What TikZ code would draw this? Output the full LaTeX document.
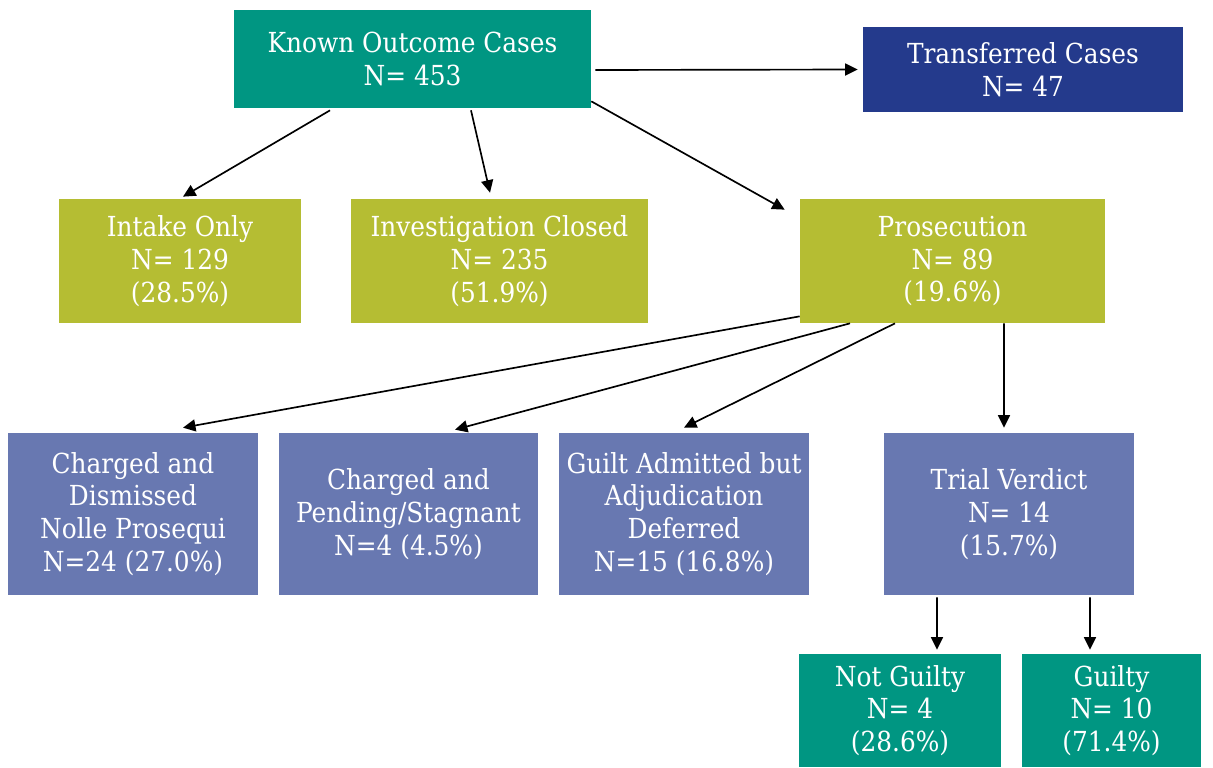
\documentclass[tikz,border=0pt]{standalone}
\usepackage{fontspec}
\setmainfont{DejaVu Serif Condensed}
\usetikzlibrary{arrows.meta,positioning}
\definecolor{tealbox}{HTML}{009682}
\definecolor{navybox}{HTML}{243A8C}
\definecolor{olivebox}{HTML}{B5BD33}
\definecolor{slatebox}{HTML}{6878B1}

\begin{document}
\begin{tikzpicture}[x=0.02cm,y=-0.02cm,
    box/.style={inner sep=0pt, align=center, text=white, font=\fontsize{15.7}{18.6}\selectfont},
    link/.style={line width=0.95pt, -{Triangle[length=0.25cm,width=0.24cm]}}]
  \useasboundingbox (0,0) rectangle (1213,767);
  % top row
  \node[box, fill=tealbox, minimum width=7.14cm, minimum height=1.96cm] (known) at (412.5,59) {Known Outcome Cases\\N= 453};
  \node[box, fill=navybox, minimum width=6.4cm, minimum height=1.7cm] (transf) at (1023,69.5) {Transferred Cases\\N= 47};
  % second row
  \node[box, fill=olivebox, minimum width=4.84cm, minimum height=2.48cm] (intake) at (180,261) {Intake Only\\N= 129\\(28.5\%)};
  \node[box, fill=olivebox, minimum width=5.94cm, minimum height=2.48cm] (closed) at (499.5,261) {Investigation Closed\\N= 235\\(51.9\%)};
  \node[box, fill=olivebox, minimum width=6.1cm, minimum height=2.48cm] (prosec) at (952.5,261) {Prosecution\\N= 89\\(19.6\%)};
  % third row
  \node[box, fill=slatebox, minimum width=5cm, minimum height=3.24cm] (dismiss) at (133,514) {Charged and\\Dismissed\\Nolle Prosequi\\N=24 (27.0\%)};
  \node[box, fill=slatebox, minimum width=5.18cm, minimum height=3.24cm] (pending) at (408.5,514) {Charged and\\Pending/Stagnant\\N=4 (4.5\%)};
  \node[box, fill=slatebox, minimum width=5cm, minimum height=3.24cm] (deferred) at (684,514) {Guilt Admitted but\\Adjudication\\Deferred\\N=15 (16.8\%)};
  \node[box, fill=slatebox, minimum width=5cm, minimum height=3.24cm] (trial) at (1009,514) {Trial Verdict\\N= 14\\(15.7\%)};
  % verdicts
  \node[box, fill=tealbox, minimum width=4.04cm, minimum height=2.26cm] (notguilty) at (900,710.5) {Not Guilty\\N= 4\\(28.6\%)};
  \node[box, fill=tealbox, minimum width=3.58cm, minimum height=2.26cm] (guilty) at (1111.5,710.5) {Guilty\\N= 10\\(71.4\%)};

  \draw[link] ([xshift=0.08cm,yshift=-0.22cm]known.east) -- ([xshift=-0.1cm]transf.west);
  \draw[link] ([xshift=-1.65cm,yshift=-0.04cm]known.south) -- ([xshift=0.06cm,yshift=0.04cm]intake.north);
  \draw[link] ([xshift=1.17cm,yshift=-0.04cm]known.south) -- ([xshift=-0.19cm,yshift=0.12cm]closed.north);
  \draw[link] ([yshift=0.14cm]known.south east) -- ([xshift=-0.3cm,yshift=-0.22cm]prosec.north west);
  \draw[link] ([yshift=0.14cm]prosec.south west) -- ([xshift=1cm,yshift=0.1cm]dismiss.north);
  \draw[link] ([xshift=-2.05cm]prosec.south) -- ([xshift=0.93cm,yshift=0.06cm]pending.north);
  \draw[link] ([xshift=-1.15cm]prosec.south) -- ([yshift=0.1cm]deferred.north);
  \draw[link] ([xshift=1.03cm]prosec.south) -- ([xshift=-0.1cm,yshift=0.1cm]trial.north);
  \draw[link] ([xshift=-1.44cm,yshift=-0.04cm]trial.south) -- ([xshift=0.74cm,yshift=0.08cm]notguilty.north);
  \draw[link] ([xshift=1.62cm,yshift=-0.04cm]trial.south) -- ([xshift=-0.43cm,yshift=0.08cm]guilty.north);
\end{tikzpicture}
\end{document}
